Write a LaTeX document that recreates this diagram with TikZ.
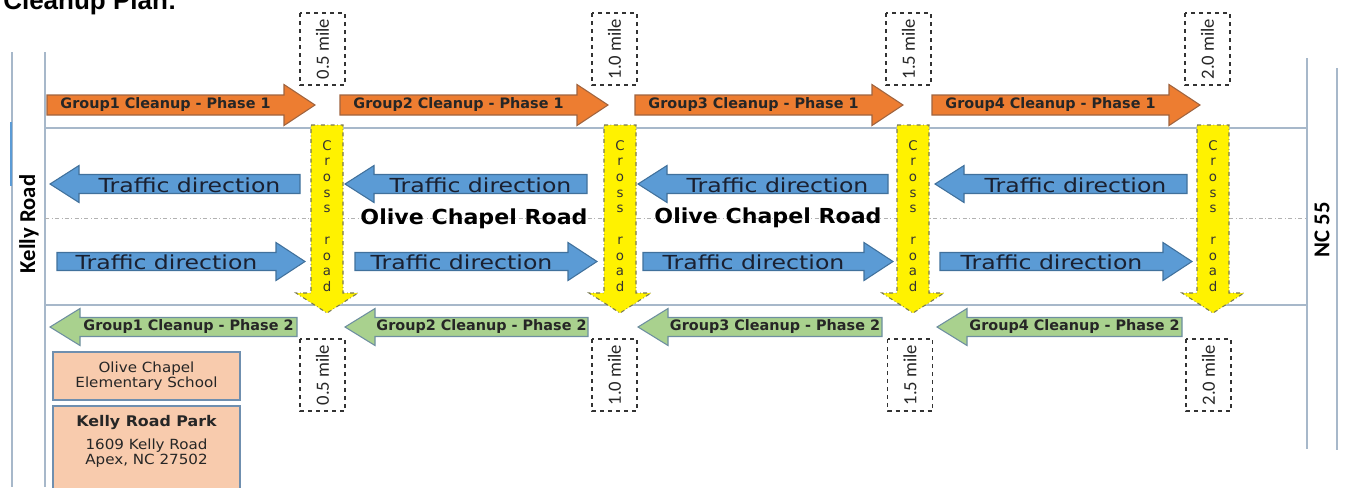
\documentclass[tikz,border=0pt]{standalone}
\usepackage{fontspec}
\setmainfont{DejaVu Sans}
\newfontfamily\calfont{Carlito}
\newfontfamily\arialfont{Liberation Sans}
\definecolor{orangeF}{HTML}{ED7D31}
\definecolor{orangeD}{HTML}{A0643F}
\definecolor{blueF}{HTML}{5B9BD5}
\definecolor{blueD}{HTML}{41719C}
\definecolor{greenF}{HTML}{A9D18E}
\definecolor{greenD}{HTML}{6E8FA0}
\definecolor{salmonF}{HTML}{F8CBAD}
\definecolor{boxD}{HTML}{6F8FAF}
\definecolor{roadC}{HTML}{A7B8CA}
\definecolor{crossD}{HTML}{7A7A50}
\definecolor{trafficT}{HTML}{1A2030}
\newcommand\rarr[7]{\draw[#1] (#2,{#4-#5}) -- ({#3-#7},{#4-#5}) -- ({#3-#7},{#4-#6}) -- (#3,#4) -- ({#3-#7},{#4+#6}) -- ({#3-#7},{#4+#5}) -- (#2,{#4+#5}) -- cycle;}
\newcommand\larr[7]{\draw[#1] (#2,#4) -- ({#2+#7},{#4-#6}) -- ({#2+#7},{#4-#5}) -- (#3,{#4-#5}) -- (#3,{#4+#5}) -- ({#2+#7},{#4+#5}) -- ({#2+#7},{#4+#6}) -- cycle;}
\newcommand\darr[7]{\draw[#1] ({#2-#5},#3) -- ({#2+#5},#3) -- ({#2+#5},{#4-#7}) -- ({#2+#6},{#4-#7}) -- (#2,#4) -- ({#2-#6},{#4-#7}) -- ({#2-#5},{#4-#7}) -- cycle;}
\begin{document}
\begin{tikzpicture}[x=0.75pt,y=-0.75pt,
  roadline/.style={draw=roadC, line width=0.9pt},
  centerline/.style={draw=black!30, dash dot, line width=0.6pt},
  orangearr/.style={fill=orangeF, draw=orangeD, line width=0.8pt},
  bluearr/.style={fill=blueF, draw=blueD, line width=0.8pt},
  greenarr/.style={fill=greenF, draw=greenD, line width=0.8pt},
  yellowarr/.style={fill=yellow, draw=crossD, dash dot, line width=0.8pt},
  phaselabel/.style={font=\bfseries\fontsize{10.8}{12}\selectfont, text=black!85, inner sep=0pt},
  traffic/.style={font=\fontsize{14.5}{16}\selectfont, xscale=1.22, text=trafficT, inner sep=0pt},
  milebox/.style={draw=black!80, dashed, line width=0.8pt, rotate=90, minimum width=54pt, minimum height=33.75pt, inner sep=0pt, font=\calfont\fontsize{14}{16}\selectfont, text=black!85},
  infobox/.style={fill=salmonF, draw=boxD, line width=0.8pt},
  roadname/.style={font=\bfseries\fontsize{15.5}{18}\selectfont, xscale=1.07, inner sep=0pt},
  sidename/.style={font=\calfont\bfseries\fontsize{17}{19}\selectfont, rotate=90, inner sep=0pt},
  crossletters/.style={align=center, font=\fontsize{10}{11.8}\selectfont, text=black!80, inner sep=0pt},
  infotext/.style={align=center, font=\fontsize{10.5}{11.5}\selectfont, xscale=1.08, text=black!85, inner sep=0pt}]
\useasboundingbox (0,0) rectangle (1345,487);

% title (cut off at top, as in the reference)
\node[anchor=base west, font=\arialfont\bfseries\fontsize{19.5}{22}\selectfont, inner sep=0pt] (title) at (3,9) {Cleanup Plan:};

% road lines
\draw[roadline] (12,52) -- (12,487);
\draw[roadline] (45,52) -- (45,487);
\draw[draw=blueF, line width=0.9pt] (11,122) -- (11,186);
\draw[roadline] (1307,58) -- (1307,449);
\draw[roadline] (1337,68) -- (1337,450);
\draw[roadline] (45,128) -- (1307,128);
\draw[roadline] (45,305) -- (1307,305);
\draw[centerline] (45,218) -- (1307,218);

% side road names
\node[sidename] (kelly) at (29,224) {Kelly Road};
\node[sidename] (nc55) at (1322,230) {NC 55};

% phase 1 (orange)
\foreach \a/\b/\n in {47/315/1, 340/608/2, 635/903/3, 932/1200/4}{
  \rarr{orangearr}{\a}{\b}{105}{10}{20.5}{31}
  \node[phaselabel] (p1g\n) at ({(\a+\b-31)/2},105) {Group\n{} Cleanup - Phase 1};
}

% traffic, top lane (left)
\foreach \a/\b/\n in {50/300/1, 345/587/2, 638/888/3, 935/1187/4}{
  \larr{bluearr}{\a}{\b}{184}{9.5}{18.5}{29}
  \node[traffic] (tl\n) at ({(\a+29+\b)/2},185) {Traffic direction};
}
% traffic, bottom lane (right)
\foreach \a/\b/\n in {57/305/1, 355/597/2, 643/893/3, 940/1192/4}{
  \rarr{bluearr}{\a}{\b}{261.5}{9}{19}{29}
  \node[traffic] (tr\n) at ({(\a+\b-29)/2},262.5) {Traffic direction};
}

% phase 2 (green)
\foreach \a/\b/\n in {50/297/1, 345/588/2, 638/882/3, 937/1182/4}{
  \larr{greenarr}{\a}{\b}{327}{9.5}{18.5}{30}
  \node[phaselabel] (p2g\n) at ({(\a+30+\b)/2},327) {Group\n{} Cleanup - Phase 2};
}

% road names
\node[roadname] (ocr1) at (474,219) {Olive Chapel Road};
\node[roadname] (ocr2) at (768,218) {Olive Chapel Road};

% cross roads (yellow)
\foreach \x/\n in {327/1, 620/2, 913/3, 1213/4}{
  \darr{yellowarr}{\x}{125}{313}{16}{31}{20}
  \node[crossletters] (cr\n) at (\x,216) {C\\r\\o\\s\\s\\~\\r\\o\\a\\d};
}

% mile markers
\node[milebox] (m1t) at (322.5,49) {0.5 mile};
\node[milebox] (m2t) at (614.5,49) {1.0 mile};
\node[milebox] (m3t) at (908.5,49) {1.5 mile};
\node[milebox] (m4t) at (1207.5,49) {2.0 mile};
\node[milebox] (m1b) at (322.5,375) {0.5 mile};
\node[milebox] (m2b) at (614.5,375) {1.0 mile};
\node[milebox] (m3b) at (910,375) {1.5 mile};
\node[milebox] (m4b) at (1208.5,375) {2.0 mile};

% info boxes
\draw[infobox] (53,352) rectangle (240,400);
\node[infotext] (school) at (146.5,376) {Olive Chapel\\Elementary School};
\draw[infobox] (53,406) rectangle (240,495);
\node[infotext, font=\bfseries\fontsize{11}{12}\selectfont, xscale=1] (park) at (146.5,422) {Kelly Road Park};
\node[infotext] (addr) at (146.5,453) {1609 Kelly Road\\Apex, NC 27502};
\end{tikzpicture}
\end{document}
